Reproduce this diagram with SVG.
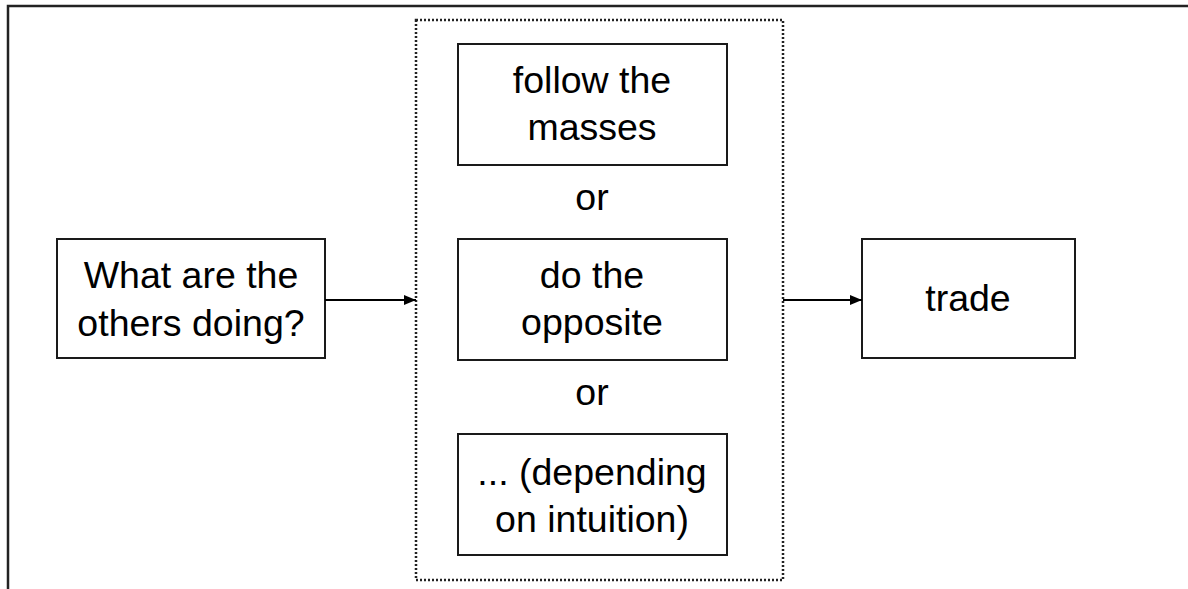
<svg xmlns="http://www.w3.org/2000/svg" width="1188" height="589" viewBox="0 0 1188 589">
  <style>
    .box { fill: #ffffff; stroke: #1a1a1a; stroke-width: 2; }
    .group { fill: none; stroke: #222222; stroke-width: 2.5; stroke-dasharray: 2 2; }
    .frame { fill: none; stroke: #222222; stroke-width: 2.5; }
    .label { font-family: "Liberation Sans", Arial, sans-serif; font-size: 37.5px; fill: #000000; text-anchor: middle; }
    .link { stroke: #000000; stroke-width: 2; fill: none; marker-end: url(#arrow); }
  </style>
  <defs>
    <marker id="arrow" viewBox="0 0 12 10" refX="12" refY="5" markerWidth="12" markerHeight="10" markerUnits="userSpaceOnUse" orient="auto">
      <path d="M0,0 L12,5 L0,10 Z" fill="#000000"/>
    </marker>
  </defs>
  <rect width="1188" height="589" fill="#ffffff"/>
  <!-- page frame -->
  <rect class="frame" x="8" y="6" width="1200" height="600"/>

  <!-- choice group -->
  <g id="choices">
    <rect class="group" x="416" y="20" width="367" height="560"/>
    <text class="label" x="592" y="210">or</text>
    <text class="label" x="592" y="405">or</text>
  </g>

  <g id="question">
    <rect class="box" x="57" y="239" width="268" height="119"/>
    <text class="label" x="191" y="288">What are the</text>
    <text class="label" x="191" y="336">others doing?</text>
  </g>

  <g id="follow">
    <rect class="box" x="458" y="44" width="269" height="121"/>
    <text class="label" x="592" y="93">follow the</text>
    <text class="label" x="592" y="140">masses</text>
  </g>

  <g id="opposite">
    <rect class="box" x="458" y="239" width="269" height="121"/>
    <text class="label" x="592" y="288">do the</text>
    <text class="label" x="592" y="335">opposite</text>
  </g>

  <g id="intuition">
    <rect class="box" x="458" y="434" width="269" height="121"/>
    <text class="label" x="592" y="485">... (depending</text>
    <text class="label" x="592" y="532">on intuition)</text>
  </g>

  <g id="trade">
    <rect class="box" x="862" y="239" width="213" height="119"/>
    <text class="label" x="968" y="311">trade</text>
  </g>

  <g id="connectors">
    <line class="link" x1="325" y1="300" x2="416" y2="300"/>
    <line class="link" x1="783" y1="300" x2="862" y2="300"/>
  </g>
</svg>
